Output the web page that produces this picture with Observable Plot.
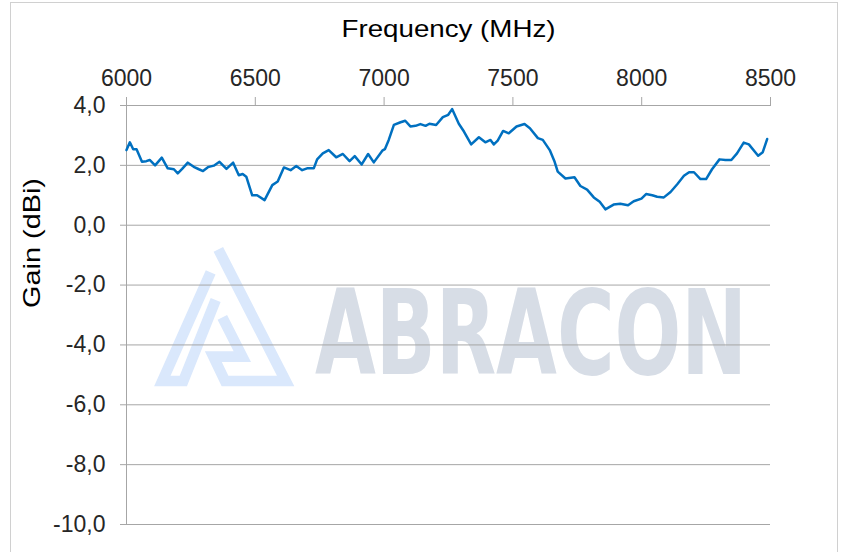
<!DOCTYPE html>
<html><head><meta charset="utf-8">
<script src="https://cdn.jsdelivr.net/npm/d3@7"></script>
<script src="https://cdn.jsdelivr.net/npm/@observablehq/plot@0.6"></script>
<style>
html,body{margin:0;padding:0;background:#fff;}
#wrap{position:relative;width:842px;height:552px;overflow:hidden;background:#fff;}
#frame{position:absolute;left:10px;top:2px;width:828px;height:570px;border:1px solid #d0d0d0;box-sizing:border-box;}
#wm{position:absolute;left:0;top:0;}
#chart{position:absolute;left:0;top:0;}
</style></head><body>
<div id="wrap">
<div id="frame"></div>
<svg id="wm" width="842" height="552">
 <g transform="translate(145,240) scale(0.3333)" fill="none" stroke="#dae8fc" stroke-width="32" stroke-linejoin="miter" stroke-miterlimit="10">
  <polyline points="220,28 422,423 240,423 205,350 292,350 232,232"/>
  <polyline points="197,97 52,423 115,423 212,180"/>
 </g>
 <g transform="translate(315,374) scale(1,1.3)">
  <text x="0" y="0" textLength="432" lengthAdjust="spacingAndGlyphs" font-family="DejaVu Sans Condensed, DejaVu Sans, sans-serif" font-weight="bold" font-size="90" fill="#d7dde6">ABRACON</text>
 </g>
</svg>
<div id="chart"></div>
</div>
<script>
const freq = [6000,6013,6026,6039,6060,6077,6090,6111,6137,6160,6184,6199,6216,6238,6261,6281,6297,6316,6339,6361,6388,6414,6436,6451,6465,6488,6507,6536,6566,6587,6611,6637,6659,6682,6701,6727,6740,6762,6785,6814,6840,6866,6886,6913,6938,6960,6993,7003,7018,7038,7064,7082,7102,7122,7141,7161,7176,7202,7228,7249,7264,7290,7310,7338,7368,7393,7413,7426,7441,7462,7484,7514,7545,7566,7597,7616,7643,7662,7674,7704,7739,7762,7788,7814,7837,7859,7891,7917,7947,7969,7999,8017,8041,8060,8086,8112,8138,8164,8184,8203,8228,8250,8273,8302,8325,8348,8370,8396,8416,8452,8470,8487];
const gain = [2.51,2.77,2.54,2.54,2.12,2.14,2.18,2.00,2.26,1.90,1.87,1.73,1.88,2.09,1.95,1.87,1.81,1.94,1.99,2.12,1.88,2.09,1.67,1.71,1.62,1.00,1.00,0.84,1.34,1.46,1.93,1.84,1.98,1.84,1.90,1.90,2.20,2.40,2.51,2.27,2.38,2.14,2.31,2.03,2.38,2.10,2.49,2.54,2.85,3.35,3.44,3.49,3.30,3.32,3.38,3.32,3.39,3.35,3.61,3.69,3.88,3.39,3.13,2.70,2.94,2.77,2.85,2.70,2.83,3.15,3.07,3.30,3.38,3.24,2.91,2.85,2.51,2.12,1.79,1.56,1.60,1.31,1.19,0.93,0.78,0.53,0.69,0.72,0.67,0.80,0.89,1.04,1.00,0.95,0.93,1.11,1.37,1.65,1.77,1.77,1.54,1.54,1.87,2.20,2.18,2.18,2.40,2.76,2.70,2.32,2.44,2.88];
const xTicks = [6000,6500,7000,7500,8000,8500];
const yTicks = [4,2,0,-2,-4,-6,-8,-10];
const xTitle = "Frequency (MHz)";
const yTitle = "Gain (dBi)";

const data = freq.map((f, i) => ({f, g: gain[i]}));
const grid = "#a6a6a6";
const chart = Plot.plot({
  width: 842, height: 552,
  marginLeft: 126, marginRight: 72, marginTop: 105, marginBottom: 28,
  style: {background: "transparent", fontFamily: "'Liberation Sans', Arial, sans-serif", color: "#262626"},
  x: {domain: [6000, 8500]},
  y: {domain: [-10, 4]},
  marks: [
    Plot.gridY(yTicks, {stroke: grid, strokeOpacity: 1, strokeWidth: 1}),
    Plot.ruleX([6000], {stroke: grid, strokeWidth: 1}),
    Plot.axisX(xTicks, {anchor: "top", tickSize: 9, tickPadding: 11, tickFormat: d => String(d), fontSize: 23, label: null, stroke: grid, fill: "#262626"}),
    Plot.axisY(yTicks, {anchor: "left", tickSize: 6, tickPadding: 15, tickFormat: d => d.toFixed(1).replace(".", ","), fontSize: 23, label: null, stroke: grid, fill: "#262626"}),
    Plot.line(data, {x: "f", y: "g", stroke: "#0070c0", strokeWidth: 2.5, curve: "linear"}),
    Plot.text([xTitle], {text: d => d, frameAnchor: "top", dy: -86, fontSize: 24, fill: "#000"}),
    Plot.text([yTitle], {text: d => d, frameAnchor: "left", dx: -94, dy: -7, rotate: -90, fontSize: 24, fill: "#000"})
  ]
});
document.getElementById("chart").appendChild(chart);
d3.select(chart).selectAll("text").each(function() {
  const t = this.textContent;
  if (t === xTitle) { this.setAttribute("textLength", 214); this.setAttribute("lengthAdjust", "spacingAndGlyphs"); }
  if (t === yTitle) { this.setAttribute("textLength", 130); this.setAttribute("lengthAdjust", "spacingAndGlyphs"); }
});
</script>
</body></html>
